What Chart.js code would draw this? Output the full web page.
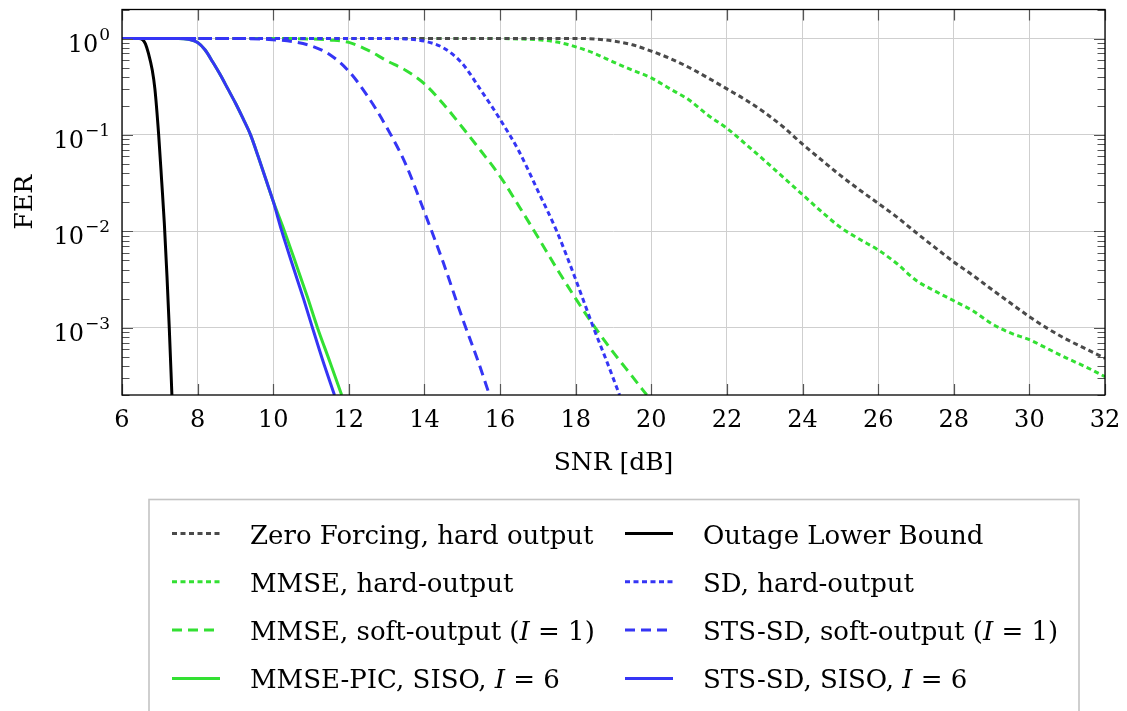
<!DOCTYPE html>
<html>
<head>
<meta charset="utf-8">
<title>FER vs SNR</title>
<script src="https://cdn.jsdelivr.net/npm/chart.js@4.4.1/dist/chart.umd.min.js"></script>
<style>
  html, body { margin: 0; padding: 0; background: #fff; }
  #wrap { position: relative; width: 1127px; height: 711px; }
</style>
</head>
<body>
<div id="wrap"><canvas id="fer"></canvas></div>
<script>
// axis ticks
const X_TICKS = [6, 8, 10, 12, 14, 16, 18, 20, 22, 24, 26, 28, 30, 32];
const Y_DECADES = [1, 0.1, 0.01, 0.001];
const Y_EXPONENTS = ['0', '\u22121', '\u22122', '\u22123'];

// series as [SNR dB, FER]
const zfHard = [[6,1],[18,1],[18.5,0.99],[19,0.94],[19.5,0.86],[20,0.74],[20.5,0.62],[21,0.5],[21.5,0.39],[22,0.3],[22.5,0.23],[23,0.17],[23.5,0.12],[24,0.08],[24.5,0.055],[25,0.038],[25.5,0.027],[26,0.0195],[26.5,0.014],[27,0.0097],[27.5,0.0068],[28,0.0048],[28.5,0.0035],[29,0.0025],[29.5,0.0018],[30,0.0013],[30.5,0.00097],[31,0.00075],[31.5,0.0006],[32,0.00048]];
const mmseHard = [[6,1],[16,1],[16.5,0.99],[17,0.97],[17.5,0.92],[18,0.82],[18.5,0.7],[19,0.57],[19.5,0.47],[20,0.39],[20.5,0.3],[21,0.23],[21.5,0.16],[22,0.117],[22.5,0.08],[23,0.054],[23.5,0.036],[24,0.024],[24.5,0.016],[25,0.011],[25.5,0.0083],[26,0.0064],[26.5,0.0046],[27,0.0031],[27.5,0.0024],[28,0.0019],[28.5,0.0015],[29,0.0011],[29.5,0.00088],[30,0.00075],[30.5,0.0006],[31,0.00048],[31.5,0.00039],[32,0.00031]];
const mmseSoft = [[6,1],[10,1],[11,0.989],[11.5,0.966],[12,0.912],[12.5,0.759],[13,0.589],[13.5,0.468],[14,0.339],[14.5,0.209],[15,0.12],[15.5,0.0676],[16,0.0372],[16.5,0.0182],[17,0.0087],[17.5,0.0041],[18,0.002],[18.5,0.00102],[19,0.00055],[19.5,0.00031],[19.88,0.0002]];
const mmsePic = [[6,1],[7.5,1],[7.75,0.98],[8,0.91],[8.2,0.76],[8.4,0.57],[8.6,0.42],[8.8,0.3],[9,0.214],[9.2,0.148],[9.4,0.1],[9.6,0.06],[9.8,0.035],[10,0.0205],[10.29,0.0102],[10.6,0.0046],[10.9,0.0021],[11.17,0.001],[11.5,0.00044],[11.81,0.0002]];
const outage = [[6,1],[6.45,1],[6.55,0.97],[6.62,0.88],[6.7,0.7],[6.8,0.47],[6.87,0.3],[6.97,0.1],[7.05,0.033],[7.12,0.012],[7.19,0.0034],[7.25,0.001],[7.32,0.0002]];
const sdHard = [[6,1],[13,1],[13.5,0.99],[14,0.94],[14.5,0.8],[15,0.55],[15.5,0.288],[16,0.145],[16.5,0.0676],[17,0.0263],[17.5,0.01],[18,0.00316],[18.47,0.001],[18.8,0.00047],[19.16,0.0002]];
const stsSoft = [[6,1],[9,1],[9.8,0.98],[10.5,0.93],[11,0.84],[11.5,0.68],[12,0.457],[12.5,0.251],[13,0.12],[13.5,0.05],[14,0.0158],[14.5,0.0047],[15,0.00126],[15.4,0.00047],[15.72,0.0002]];
const stsSiso = [[6,1],[7.5,1],[7.75,0.98],[8,0.91],[8.2,0.76],[8.4,0.57],[8.6,0.42],[8.8,0.3],[9,0.214],[9.2,0.148],[9.4,0.1],[9.6,0.06],[9.8,0.035],[10,0.0204],[10.22,0.0102],[10.5,0.0046],[10.8,0.002],[11.02,0.00105],[11.3,0.00047],[11.62,0.0002]];

const GREY = '#4a4a4a';
const GREEN = '#33e033';
const BLUE = '#3535f5';
const DOT = [5, 3.5];
const DASH = [10, 6];
const SERIF = '"DejaVu Serif", serif';

const toXY = (arr) => arr.map(([x, y]) => ({ x, y }));

function series(label, data, color, dash, order) {
  return {
    label,
    data: toXY(data),
    borderColor: color,
    borderDash: dash,
    borderWidth: 3,
    order,
    fill: false,
  };
}

// first four go in the left legend column, last four in the right one
const datasets = [
  series('Zero Forcing, hard output', zfHard, GREY, DOT, 2),
  series('MMSE, hard-output', mmseHard, GREEN, DOT, 2),
  series('MMSE, soft-output (I = 1)', mmseSoft, GREEN, DASH, 2),
  series('MMSE-PIC, SISO, I = 6', mmsePic, GREEN, [], 2),
  series('Outage Lower Bound', outage, '#000', [], 1),
  series('SD, hard-output', sdHard, BLUE, DOT, 1),
  series('STS-SD, soft-output (I = 1)', stsSoft, BLUE, DASH, 1),
  series('STS-SD, SISO, I = 6', stsSiso, BLUE, [], 0),
];

// draws text with a standalone "I" in italics
function drawMathText(ctx, text, x, y, size) {
  const parts = text.split(/\bI\b/);
  let cx = x;
  parts.forEach((p, i) => {
    ctx.font = `${size}px ${SERIF}`;
    ctx.fillText(p, cx, y);
    cx += ctx.measureText(p).width;
    if (i < parts.length - 1) {
      ctx.font = `italic ${size}px ${SERIF}`;
      ctx.fillText('I', cx, y);
      cx += ctx.measureText('I').width;
    }
  });
}

const decor = {
  id: 'decor',
  afterDraw(chart) {
    const { ctx, chartArea: a } = chart;
    const xs = chart.scales.x;
    const ys = chart.scales.y;
    ctx.save();

    // tick marks, inside the frame
    ctx.strokeStyle = '#555';
    ctx.lineWidth = 1.2;
    ctx.beginPath();
    X_TICKS.forEach((v) => {
      const px = Math.round(xs.getPixelForValue(v)) + 0.5;
      ctx.moveTo(px, a.bottom); ctx.lineTo(px, a.bottom - 11);
      ctx.moveTo(px, a.top); ctx.lineTo(px, a.top + 11);
    });
    ys.ticks.forEach((t) => {
      const py = Math.round(ys.getPixelForValue(t.value)) + 0.5;
      const len = t.major ? 11 : 7.5;
      ctx.moveTo(a.left, py); ctx.lineTo(a.left + len, py);
      ctx.moveTo(a.right, py); ctx.lineTo(a.right - len, py);
    });
    ctx.stroke();

    // frame
    ctx.strokeStyle = '#000';
    ctx.lineWidth = 1.3;
    ctx.strokeRect(a.left, a.top, a.right - a.left, a.bottom - a.top);

    // x tick labels
    ctx.fillStyle = '#000';
    ctx.textBaseline = 'alphabetic';
    ctx.textAlign = 'center';
    ctx.font = `24px ${SERIF}`;
    X_TICKS.forEach((v) => ctx.fillText(String(v), xs.getPixelForValue(v), a.bottom + 32));

    // y tick labels, 10 with raised exponent
    ctx.textAlign = 'right';
    Y_DECADES.forEach((v, i) => {
      const py = ys.getPixelForValue(v);
      ctx.font = `17px ${SERIF}`;
      const ew = ctx.measureText(Y_EXPONENTS[i]).width;
      ctx.fillText(Y_EXPONENTS[i], 110, py + 1);
      ctx.font = `24px ${SERIF}`;
      ctx.fillText('10', 110 - ew - 1, py + 13);
    });

    // axis titles
    ctx.textAlign = 'center';
    ctx.font = `25px ${SERIF}`;
    ctx.fillText('SNR [dB]', (a.left + a.right) / 2, 470);
    ctx.save();
    ctx.translate(32, (a.top + a.bottom) / 2);
    ctx.rotate(-Math.PI / 2);
    ctx.fillText('FER', 0, 0);
    ctx.restore();

    // legend box, two columns
    ctx.strokeStyle = '#c4c4c4';
    ctx.lineWidth = 1.6;
    ctx.strokeRect(149, 499.5, 930, 260);
    ctx.textAlign = 'left';
    chart.data.datasets.forEach((ds, i) => {
      const col = i < 4 ? 0 : 1;
      const row = i % 4;
      const x0 = col ? 625 : 172;
      const cy = 533.5 + row * 48.3;
      ctx.strokeStyle = ds.borderColor;
      ctx.lineWidth = ds.borderWidth;
      ctx.setLineDash(ds.borderDash);
      ctx.beginPath();
      ctx.moveTo(x0, cy); ctx.lineTo(x0 + 48, cy);
      ctx.stroke();
      ctx.setLineDash([]);
      ctx.fillStyle = '#000';
      drawMathText(ctx, ds.label, col ? 703 : 250, cy + 10, 26);
    });
    ctx.restore();
  },
};

function logTicks(scale) {
  const ticks = [];
  for (let e = -4; e <= 0; e++) {
    for (let m = 1; m <= 9; m++) {
      const v = m * Math.pow(10, e);
      if (v >= scale.min * 0.999 && v <= scale.max * 1.001) ticks.push({ value: v, major: m === 1 });
    }
  }
  scale.ticks = ticks;
}

new Chart(document.getElementById('fer'), {
  type: 'line',
  data: { datasets },
  options: {
    responsive: true,
    maintainAspectRatio: false,
    animation: false,
    layout: { padding: { top: 9.5, right: 22, left: 0, bottom: 0 } },
    elements: {
      point: { radius: 0, hoverRadius: 0 },
      line: { tension: 0.4, cubicInterpolationMode: 'monotone', borderCapStyle: 'butt' },
    },
    plugins: {
      legend: { display: false },
      tooltip: { enabled: false },
    },
    scales: {
      x: {
        type: 'linear',
        min: 6,
        max: 32,
        ticks: { display: false },
        grid: { color: '#cfcfcf', lineWidth: 1, drawTicks: false },
        border: { display: false },
        afterBuildTicks: (s) => { s.ticks = X_TICKS.map((v) => ({ value: v })); },
        afterFit: (s) => { s.height = 316; },
      },
      y: {
        type: 'logarithmic',
        min: 2e-4,
        max: 2,
        ticks: { display: false },
        grid: {
          drawTicks: false,
          lineWidth: 1,
          color: (c) => (c.tick && c.tick.major ? '#cfcfcf' : 'rgba(0,0,0,0)'),
        },
        border: { display: false },
        afterBuildTicks: logTicks,
        afterFit: (s) => { s.width = 122; },
      },
    },
  },
  plugins: [decor],
});
</script>
</body>
</html>
